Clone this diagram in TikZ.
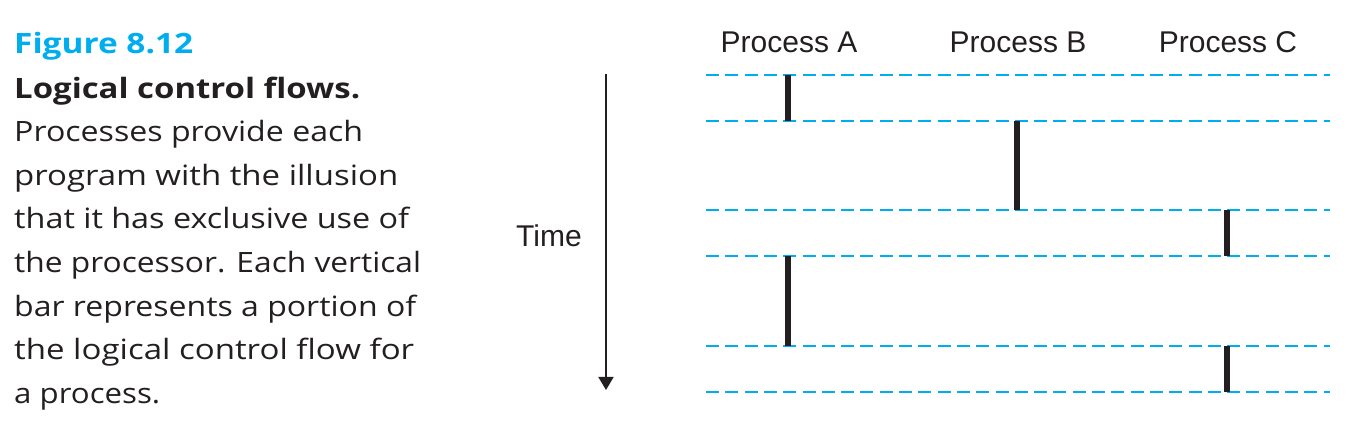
\documentclass[tikz,border=0pt]{standalone}
\usepackage{fontspec}
\usepackage{graphicx}
\setmainfont{Liberation Sans}
\newfontfamily\capfont{Open Sans}
\usetikzlibrary{arrows.meta}
\definecolor{dashblue}{HTML}{00AEEF}
\definecolor{ink}{HTML}{231F20}
\newcommand{\fitto}[2]{\resizebox{#1}{\height}{#2}}
\tikzset{
  slot/.style={draw=dashblue, line width=2pt, dash pattern=on 13pt off 6.3pt},
  bar/.style={draw=ink, line width=6pt},
  label/.style={font=\fontsize{30}{30}\selectfont, text=ink, inner sep=0pt},
  capline/.style={font=\capfont\fontsize{28}{28}\selectfont, text=ink, inner sep=0pt, anchor=base west},
  capbold/.style={capline, font=\capfont\bfseries\fontsize{28}{28}\selectfont},
  timearrow/.style={draw=ink, line width=1.7pt, -{Triangle[length=13pt,width=15pt]}}
}
\begin{document}
\begin{tikzpicture}[x=1pt,y=-1pt]
\useasboundingbox (0,0) rectangle (1350,430);
% caption
\node[capbold, text=dashblue] (fig) at (14,54) {\fitto{179pt}{Figure 8.12}};
\node[capbold] (c1) at (14,99) {\fitto{346pt}{Logical control flows.}};
\node[capline] (c2) at (14,142) {\fitto{349pt}{Processes provide each}};
\node[capline] (c3) at (14,186) {\fitto{384pt}{program with the illusion}};
\node[capline] (c4) at (14,229) {\fitto{395pt}{that it has exclusive use of}};
\node[capline] (c5) at (14,273) {\fitto{407pt}{the processor. Each vertical}};
\node[capline] (c6) at (14,317) {\fitto{402pt}{bar represents a portion of}};
\node[capline] (c7) at (14,360) {\fitto{400pt}{the logical control flow for}};
\node[capline] (c8) at (14,403) {\fitto{146pt}{a process.}};
% labels
\node[label] (pa) at (789,42) {Process A};
\node[label] (pb) at (1018,42) {Process B};
\node[label] (pc) at (1228,42) {Process C};
\node[label] (time) at (549,236) {Time};
% time arrow
\coordinate (t0) at (606,74);
\coordinate (t1) at (606,390);
\draw[timearrow] (t0) -- (t1);
% dashed slot lines
\foreach \i/\y in {1/75,2/121,3/210,4/256,5/346,6/392}{
  \coordinate (l\i) at (706,\y);
  \coordinate (r\i) at (1330,\y);
  \draw[slot] (l\i) -- (r\i);
}
% bars
\coordinate (a1) at (788,75);  \coordinate (a2) at (788,121);
\coordinate (b1) at (1017,121); \coordinate (b2) at (1017,210);
\coordinate (c1t) at (1227,210); \coordinate (c2b) at (1227,256);
\coordinate (a3) at (788,256);  \coordinate (a4) at (788,346);
\coordinate (c3t) at (1227,346); \coordinate (c4b) at (1227,392);
\draw[bar] (a1) -- (a2);
\draw[bar] (b1) -- (b2);
\draw[bar] (c1t) -- (c2b);
\draw[bar] (a3) -- (a4);
\draw[bar] (c3t) -- (c4b);
\end{tikzpicture}
\end{document}
